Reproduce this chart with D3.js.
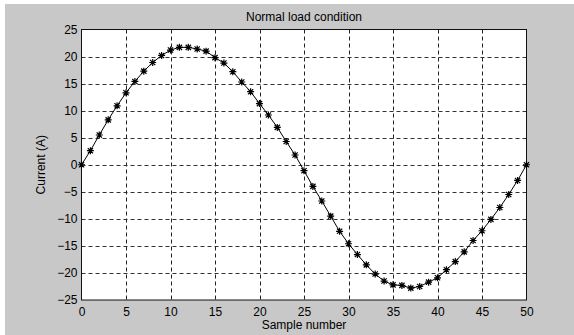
<!DOCTYPE html>
<html><head><meta charset="utf-8">
<script src="https://cdn.jsdelivr.net/npm/d3@7"></script>
<style>html,body{margin:0;padding:0;background:#fff;}svg{display:block;}</style>
</head><body>
<svg id="c" width="574" height="335"></svg>
<script>
const samples = d3.range(0, 51);
const current = [0, 2.6, 5.5, 8.3, 10.9, 13.3, 15.4, 17.3, 18.9, 20.2, 21.2, 21.7, 21.7, 21.4, 21.0,
  19.8, 18.8, 17.2, 15.3, 13.5, 11.3, 9.2, 6.9, 4.3, 1.8, -1.1, -4.0, -6.7, -9.5, -12.3,
  -14.6, -16.6, -18.5, -20.2, -21.5, -22.2, -22.3, -22.8, -22.5, -21.7, -20.9, -19.4, -17.9, -16.1, -14.0,
  -12.2, -10.1, -7.9, -5.5, -2.9, 0];
const xTicks = [0, 5, 10, 15, 20, 25, 30, 35, 40, 45, 50];
const yTicks = [-25, -20, -15, -10, -5, 0, 5, 10, 15, 20, 25];
const titleText = "Normal load condition";
const xLabel = "Sample number";
const yLabel = "Current (A)";

const svg = d3.select("#c");
const W = 574, H = 335;
const L = 81.5, R = 526.5, T = 29.5, B = 300;
const font = "'Liberation Sans', Arial, Helvetica, sans-serif";

svg.append("rect").attr("x", 5).attr("y", 4).attr("width", W - 5).attr("height", H - 4).attr("fill", "#c8c8c8");

const x = d3.scaleLinear().domain([0, 50]).range([L, R]);
const y = d3.scaleLinear().domain([-25, 25]).range([B, T]);

svg.append("rect").attr("x", L).attr("y", T).attr("width", R - L).attr("height", B - T).attr("fill", "#fff");

// grid
const g = svg.append("g");
g.selectAll(".vg").data(xTicks.slice(1, -1)).join("line")
  .attr("x1", d => Math.round(x(d)) + 0.5).attr("x2", d => Math.round(x(d)) + 0.5)
  .attr("y1", T).attr("y2", B)
  .attr("stroke", "#222").attr("stroke-width", 1).attr("stroke-dasharray", "4,3");
g.selectAll(".hg").data(yTicks.slice(1, -1)).join("line")
  .attr("y1", d => Math.round(y(d)) + 0.5).attr("y2", d => Math.round(y(d)) + 0.5)
  .attr("x1", L).attr("x2", R)
  .attr("stroke", "#333").attr("stroke-width", 1).attr("stroke-dasharray", "4,3");

// axes
const xAxis = d3.axisBottom(x).tickValues(xTicks).tickSize(0).tickPadding(7);
const yAxis = d3.axisLeft(y).tickValues(yTicks).tickSize(0).tickPadding(4);
const xa = svg.append("g").attr("transform", `translate(0,${B})`).call(xAxis);
const ya = svg.append("g").attr("transform", `translate(${L},0)`).call(yAxis);
[xa, ya].forEach(a => {
  a.select(".domain").remove();
  a.selectAll("text").attr("font-family", font).attr("font-size", 12).attr("fill", "#000");
});

// box
svg.append("rect").attr("x", L).attr("y", T).attr("width", R - L).attr("height", B - T)
  .attr("fill", "none").attr("stroke", "#111").attr("stroke-width", 1);

// line
const line = d3.line().x((d, i) => x(samples[i])).y(d => y(d));
svg.append("path").datum(current).attr("d", line).attr("fill", "none")
  .attr("stroke", "#000").attr("stroke-width", 1);

// asterisk markers
const sz = 3.5;
const mk = svg.append("g").selectAll("g").data(current).join("g")
  .attr("transform", (d, i) => `translate(${x(samples[i])},${y(d)})`);
mk.append("path")
  .attr("d", `M${-sz},0H${sz}M0,${-sz}V${sz}M${-sz*0.75},${-sz*0.75}L${sz*0.75},${sz*0.75}M${-sz*0.75},${sz*0.75}L${sz*0.75},${-sz*0.75}`)
  .attr("stroke", "#000").attr("stroke-width", 1.2).attr("fill", "none");

// texts
svg.append("text").attr("x", (L + R) / 2).attr("y", 21).attr("text-anchor", "middle")
  .attr("font-family", font).attr("font-size", 12).text(titleText);
svg.append("text").attr("x", (L + R) / 2).attr("y", 329).attr("text-anchor", "middle")
  .attr("font-family", font).attr("font-size", 12).text(xLabel);
svg.append("text").attr("transform", `translate(45,${(T + B) / 2}) rotate(-90)`).attr("text-anchor", "middle")
  .attr("font-family", font).attr("font-size", 12).text(yLabel);
</script>
</body></html>
